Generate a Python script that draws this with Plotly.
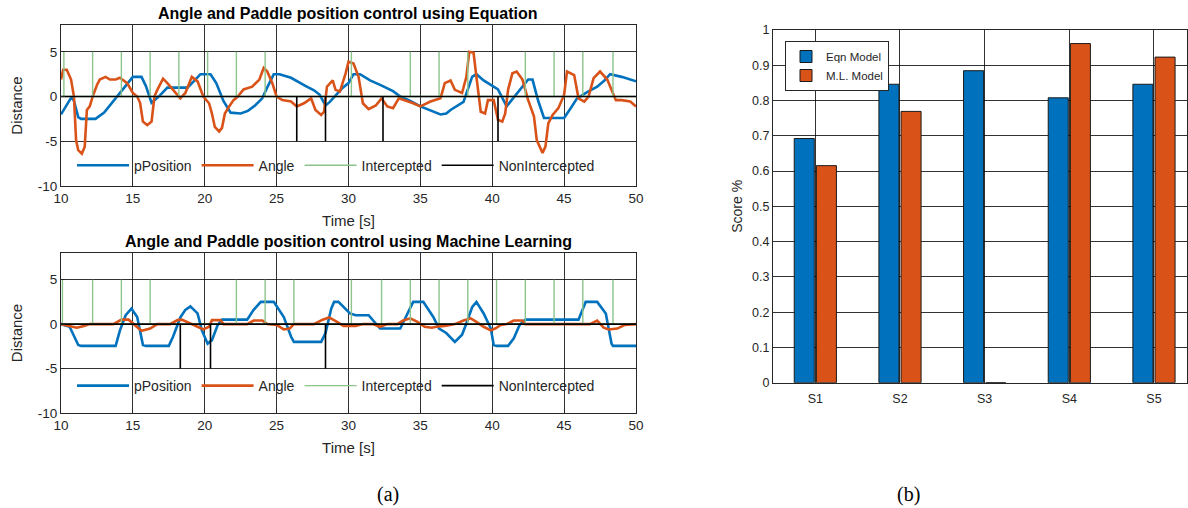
import plotly.graph_objects as go

# ---------------- data ----------------
# (a) top: control using Equation
eq_t_pos = [10, 10.4, 10.75, 10.9, 11.2, 11.4, 12.4, 13.0, 13.5, 14.0, 14.5, 15.0, 15.6, 15.9, 16.3, 16.8,
            17.4, 18.8, 19.3, 19.7, 20.4, 20.8, 21.3, 21.8, 22.5, 23.0, 23.5, 24.0, 24.4, 24.8, 25.2, 26.0,
            27.0, 27.6, 28.0, 28.4, 28.7, 29.2, 29.6, 30.0, 30.35, 30.8, 31.5, 32.2, 33.1, 33.6, 34.3, 35.0,
            35.8, 36.4, 36.8, 37.1, 38.0, 38.3, 38.6, 38.9, 39.4, 39.9, 40.4, 41.0, 41.4, 41.8, 42.5, 42.8,
            43.2, 43.6, 45.0, 45.5, 45.9, 46.6, 47.3, 47.8, 48.2, 49.0, 50.0]
eq_pos = [-2.0, -1.0, 0.0, -0.5, -2.3, -2.5, -2.5, -1.8, -0.8, 0.3, 1.3, 2.2, 2.2, 1.2, -0.7, 0.0,
          1.0, 1.0, 1.8, 2.5, 2.5, 1.5, -0.5, -1.8, -1.9, -1.6, -1.0, -0.2, 1.2, 2.5, 2.5, 2.1,
          1.2, 0.7, 0.2, -1.0, -0.6, 0.3, 1.0, 1.5, 2.5, 2.5, 1.8, 1.3, 0.6, 0.0, -0.5, -1.1,
          -1.6, -2.0, -1.9, -1.5, -0.6, 0.8, 2.2, 2.5, 1.8, 1.3, 0.8, -1.1, -0.3, 0.6, 1.9, 1.9,
          -0.5, -2.4, -2.4, -1.2, -0.2, 0.5, 1.1, 1.8, 2.5, 2.2, 1.7]

eq_t_ang = [10, 10.15, 10.4, 10.7, 10.9, 11.05, 11.2, 11.45, 11.65, 11.8, 12.0, 12.2, 12.5, 12.7, 13.1, 13.4,
            13.8, 14.1, 14.6, 15.0, 15.3, 15.5, 15.7, 16.0, 16.3, 16.5, 16.7, 17.1, 17.4, 17.8, 18.3, 18.65,
            19.1, 19.5, 19.7, 19.9, 20.3, 20.5, 20.7, 21.0, 21.2, 21.4, 21.7, 22.0, 22.3, 22.7, 23.3, 23.8,
            24.1, 24.35, 24.7, 25.0, 25.4, 26.0, 26.4, 26.9, 27.4, 27.7, 28.1, 28.3, 28.5, 28.9, 29.1, 29.4,
            29.8, 30.0, 30.35, 30.7, 31.0, 31.4, 31.9, 32.3, 32.7, 33.1, 33.5, 33.9, 34.5, 35.0, 35.7, 36.4,
            36.7, 37.1, 37.4, 37.9, 38.2, 38.4, 38.7, 38.9, 39.2, 39.5, 39.7, 40.1, 40.4, 40.7, 40.9, 41.1,
            41.4, 41.7, 42.1, 42.5, 42.9, 43.1, 43.5, 43.7, 43.9, 44.2, 44.6, 45.0, 45.2, 45.7, 46.0, 46.4,
            46.7, 47.05, 47.5, 48.0, 48.3, 48.6, 49.0, 49.6, 50.0]
eq_ang = [1.9, 3.0, 3.0, 1.9, 0.0, -4.9, -6.0, -6.4, -5.6, -1.5, -1.1, 0.0, 1.3, 1.9, 2.2, 1.9,
          1.9, 2.1, 1.5, 0.4, 0.0, -0.7, -2.8, -3.2, -2.8, 0.0, 0.75, 2.0, 1.5, 0.75, -0.2, 0.4,
          2.2, 1.7, 0.75, 0.0, -0.75, -1.9, -3.4, -3.9, -3.5, -1.9, -1.1, -0.4, 0.0, 0.8, 1.1, 1.9,
          3.2, 2.8, 1.5, 0.0, -0.4, -0.56, -1.1, -0.75, -0.2, -1.5, -2.05, -1.7, 1.1, 1.8, 0.75, 0.56,
          2.6, 3.9, 3.7, 2.2, -0.75, -1.4, -1.0, -0.2, -1.1, -1.3, -0.2, -0.4, -0.75, -1.1, -0.56, -0.2,
          1.5, 1.8, 0.75, 0.4, 2.2, 5.0, 4.9, 2.2, -1.7, -1.9, -0.4, -0.4, -2.6, -2.8, -1.9, 0.75,
          2.6, 2.8, 1.9, -0.4, -2.2, -4.9, -6.3, -5.6, -3.0, -2.05, -1.3, 0.2, 2.8, 2.4, -0.2, -0.56,
          0.0, 2.05, 2.8, 1.9, 0.75, -0.4, -0.4, -0.56, -1.1]

eq_hit_times = [10.2, 12.2, 14.2, 16.2, 18.2, 20.2, 22.2, 24.2, 30.2, 34.3, 36.3, 38.3, 42.3, 44.3, 46.3, 48.4]
eq_miss_times = [26.4, 28.4, 32.4, 40.4]

# (a) bottom: control using Machine Learning
ml_t_pos = [10, 10.6, 11.2, 11.4, 13.8, 14.1, 14.5, 14.9, 15.3, 15.7, 15.9, 17.5, 17.8, 18.3, 18.65, 19.0,
            19.5, 19.8, 20.2, 20.5, 20.9, 21.2, 22.95, 23.4, 23.9, 24.8, 25.5, 26.0, 26.2, 28.1, 28.4, 28.8,
            29.0, 29.3, 30.1, 30.5, 31.4, 31.7, 32.2, 33.6, 34.3, 34.5, 35.2, 35.9, 36.3, 36.8, 37.4, 37.9,
            38.2, 38.6, 38.9, 39.4, 39.9, 40.1, 40.3, 41.1, 41.5, 41.9, 42.3, 46.0, 46.5, 47.3, 47.9, 48.3,
            48.4, 50.0]
ml_pos = [0.0, -0.3, -2.35, -2.45, -2.45, -0.7, 1.0, 1.75, 0.8, -2.35, -2.45, -2.45, -1.4, 0.75, 1.6, 2.0,
          1.2, -0.7, -2.2, -1.8, -0.1, 0.5, 0.5, 1.6, 2.5, 2.5, 0.8, -1.4, -2.0, -2.0, -1.0, 1.75,
          2.5, 2.5, 1.2, 1.0, 1.0, 0.45, -0.5, -0.5, 1.9, 2.5, 2.5, 0.8, -0.5, -1.0, -2.0, -1.2,
          0.07, 1.9, 2.5, 1.2, -0.5, -2.35, -2.45, -2.45, -1.6, -0.1, 0.5, 0.5, 2.5, 2.5, 1.2, -2.2,
          -2.45, -2.45]

ml_t_ang = [10, 10.5, 11.1, 11.6, 12.0, 13.65, 14.2, 14.7, 15.3, 15.6, 16.2, 16.7, 17.6, 18.1, 18.4, 18.9,
            19.5, 19.9, 20.3, 20.5, 21.1, 21.3, 22.95, 23.4, 24.0, 24.35, 25.0, 25.5, 25.9, 26.2, 27.6, 28.2,
            28.65, 29.2, 29.65, 30.5, 31.0, 31.7, 32.2, 32.7, 33.4, 33.8, 34.3, 34.8, 35.3, 35.8, 36.1, 36.7,
            37.4, 38.0, 38.5, 38.9, 39.4, 39.9, 40.2, 40.6, 41.0, 41.5, 42.1, 42.3, 46.8, 47.3, 47.75, 48.1,
            48.7, 49.2, 50.0]
ml_ang = [0.0, -0.2, -0.4, -0.2, 0.0, 0.0, 0.5, 0.5, -0.3, -0.75, -0.5, 0.0, 0.0, 0.45, 0.5, 0.1,
          -0.3, -0.6, -0.3, 0.45, 0.45, 0.0, 0.0, 0.4, 0.4, 0.0, -0.1, -0.6, -0.5, 0.0, 0.0, 0.5,
          0.75, 0.25, -0.2, -0.2, 0.0, 0.0, -0.3, 0.0, 0.0, 0.4, 0.65, 0.25, -0.3, -0.4, -0.3, -0.2,
          0.0, 0.4, 0.65, 0.25, -0.3, -0.7, -0.5, -0.1, 0.0, 0.4, 0.4, 0.0, 0.0, 0.4, -0.4, -0.6,
          -0.5, -0.1, 0.0]

ml_hit_times = [10.1, 12.2, 14.2, 16.2, 22.2, 24.2, 26.2, 30.2, 32.3, 34.3, 36.3, 38.3, 40.3, 42.3, 44.3, 46.3, 48.4]
ml_miss_times = [18.3, 20.4, 28.4]

# (b) scores
subjects = ["S1", "S2", "S3", "S4", "S5"]
eqn_scores = [0.6923, 0.8462, 0.8846, 0.8077, 0.8462]
ml_scores = [0.6154, 0.7692, 0.0, 0.9615, 0.9231]

T_START, T_END = 10, 50
HIT_LEVEL, MISS_LEVEL = 5, -5

# ---------------- style ----------------
BLUE = "#0072BD"
ORANGE = "#D95319"
GREEN = "#8CC48C"
BLACK = "#000000"
AX = "#262626"
GRID = "rgba(0,0,0,0.8)"
SANS = "Liberation Sans, Arial, sans-serif"
SERIF = "Liberation Serif, Times New Roman, serif"


def pulses(times, level):
    xs, ys = [T_START], [0]
    for t in times:
        xs += [t, t, t]
        ys += [0, level, 0]
    xs.append(T_END)
    ys.append(0)
    return xs, ys


fig = go.Figure()

panels = [
    ("x", "y", "legend", eq_t_pos, eq_pos, eq_t_ang, eq_ang, eq_hit_times, eq_miss_times),
    ("x2", "y2", "legend2", ml_t_pos, ml_pos, ml_t_ang, ml_ang, ml_hit_times, ml_miss_times),
]
for xa, ya, lg, tp, p, ta, a, hits, misses in panels:
    fig.add_trace(go.Scatter(x=tp, y=p, mode="lines", name="pPosition", xaxis=xa, yaxis=ya,
                             legend=lg, line=dict(color=BLUE, width=2.6)))
    fig.add_trace(go.Scatter(x=ta, y=a, mode="lines", name="Angle", xaxis=xa, yaxis=ya,
                             legend=lg, line=dict(color=ORANGE, width=2.6)))
    hx, hy = pulses(hits, HIT_LEVEL)
    fig.add_trace(go.Scatter(x=hx, y=hy, mode="lines", name="Intercepted", xaxis=xa, yaxis=ya,
                             legend=lg, line=dict(color=GREEN, width=1.4)))
    mx, my = pulses(misses, MISS_LEVEL)
    fig.add_trace(go.Scatter(x=mx, y=my, mode="lines", name="NonIntercepted", xaxis=xa, yaxis=ya,
                             legend=lg, line=dict(color=BLACK, width=1.6)))

fig.add_trace(go.Bar(x=subjects, y=eqn_scores, name="Eqn Model", xaxis="x3", yaxis="y3",
                     legend="legend3", marker=dict(color=BLUE, line=dict(color="#1a1a1a", width=1))))
fig.add_trace(go.Bar(x=subjects, y=ml_scores, name="M.L. Model", xaxis="x3", yaxis="y3",
                     legend="legend3", marker=dict(color=ORANGE, line=dict(color="#1a1a1a", width=1))))

W, H = 1188, 508


def px(x):
    return x / W


def py(y):
    return 1 - y / H


line_axis = dict(range=[T_START, T_END], tickvals=[10, 15, 20, 25, 30, 35, 40, 45, 50],
                 showgrid=True, gridcolor=GRID, gridwidth=1, zeroline=False, automargin=False,
                 showline=True, linecolor=AX, linewidth=1, mirror=True,
                 ticks="inside", ticklen=4, tickcolor=AX,
                 tickfont=dict(family=SANS, size=13.5, color=AX),
                 title=dict(text="Time [s]", font=dict(family=SANS, size=15, color=AX), standoff=10))
dist_axis = dict(range=[-10, 8], tickvals=[-10, -5, 0, 5], ticktext=["-10", "-5", "0", "5"],
                 showgrid=True, gridcolor=GRID, gridwidth=1, zeroline=False, automargin=False,
                 showline=True, linecolor=AX, linewidth=1, mirror=True,
                 ticks="inside", ticklen=4, tickcolor=AX,
                 tickfont=dict(family=SANS, size=13.5, color=AX),
                 title=dict(text="Distance", font=dict(family=SANS, size=15, color=AX), standoff=11))

legend_common = dict(orientation="h", bgcolor="rgba(0,0,0,0)", borderwidth=0,
                     font=dict(family=SANS, size=14, color=AX), xanchor="left", yanchor="middle",
                     itemwidth=52, tracegroupgap=0)

fig.update_layout(
    width=W, height=H, margin=dict(l=0, r=0, t=0, b=0, autoexpand=False),
    paper_bgcolor="white", plot_bgcolor="white", showlegend=True,
    barmode="group", bargap=0.477, bargroupgap=0.095,
    xaxis=dict(domain=[px(61), px(636)], anchor="y", **line_axis),
    yaxis=dict(domain=[py(186), py(25)], anchor="x", **dist_axis),
    xaxis2=dict(domain=[px(61), px(636)], anchor="y2", **line_axis),
    yaxis2=dict(domain=[py(413), py(253)], anchor="x2", **dist_axis),
    xaxis3=dict(domain=[px(773), px(1187)], anchor="y3", type="category", range=[-0.5, 4.39],
                showgrid=True, gridcolor=GRID, gridwidth=1, zeroline=False, automargin=False,
                showline=True, linecolor=AX, linewidth=1, mirror=True, ticks="",
                ticklabelstandoff=4,
                tickfont=dict(family=SANS, size=12.5, color=AX)),
    yaxis3=dict(domain=[py(382.7), py(30)], anchor="x3", range=[0, 1], automargin=False,
                tickvals=[0, 0.1, 0.2, 0.3, 0.4, 0.5, 0.6, 0.7, 0.8, 0.9, 1],
                ticktext=["0", "0.1", "0.2", "0.3", "0.4", "0.5", "0.6", "0.7", "0.8", "0.9", "1"],
                showgrid=True, gridcolor=GRID, gridwidth=1, zeroline=False,
                showline=True, linecolor=AX, linewidth=1, mirror=True, ticks="",
                tickfont=dict(family=SANS, size=12.5, color=AX),
                title=dict(text="Score %", font=dict(family=SANS, size=14, color=AX), standoff=6)),
    legend=dict(x=px(72), y=py(165.7), **legend_common),
    legend2=dict(x=px(72), y=py(386), **legend_common),
    legend3=dict(x=px(785), y=py(41), xanchor="left", yanchor="top", orientation="v",
                 bgcolor="white", bordercolor=AX, borderwidth=1,
                 font=dict(family=SANS, size=11.5, color=AX), tracegroupgap=0),
)

annotations = [
    dict(text="<b>Angle and Paddle position control using Equation</b>", x=px(348), y=py(14)),
    dict(text="<b>Angle and Paddle position control using Machine Learning</b>", x=px(348), y=py(241)),
]
for a in annotations:
    fig.add_annotation(xref="paper", yref="paper", showarrow=False, xanchor="center", yanchor="middle",
                       font=dict(family=SANS, size=16, color="black"), **a)
fig.add_annotation(text="(a)", x=px(388), y=py(494), xref="paper", yref="paper", showarrow=False,
                   xanchor="center", yanchor="middle", font=dict(family=SERIF, size=20, color="black"))
fig.add_annotation(text="(b)", x=px(908), y=py(494), xref="paper", yref="paper", showarrow=False,
                   xanchor="center", yanchor="middle", font=dict(family=SERIF, size=20, color="black"))

fig.write_html("out.html", config={"displayModeBar": False},
               post_script="document.body.style.margin='0px';document.body.style.overflow='hidden';")
